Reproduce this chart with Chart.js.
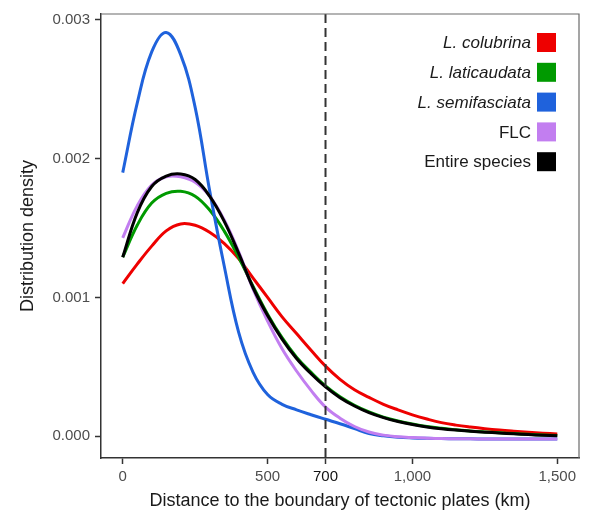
<!DOCTYPE html>
<html>
<head>
<meta charset="utf-8">
<script src="https://cdn.jsdelivr.net/npm/chart.js@4"></script>
<style>
  html, body { margin: 0; padding: 0; background: #fff; }
  #wrap { width: 589px; height: 512px; }
</style>
</head>
<body>
<div id="wrap"><canvas id="chart" width="589" height="512"></canvas></div>
<script>
// distancia (km) em que as curvas foram lidas
const distance = [0, 50, 100, 150, 200, 250, 300, 350, 400, 450, 500, 550, 600, 650, 700, 750,
                  800, 850, 900, 950, 1000, 1050, 1100, 1150, 1200, 1250, 1300, 1350, 1400, 1450, 1500];

const colubrina = [0.00110, 0.00124, 0.00137, 0.00148, 0.00153, 0.00152, 0.00147, 0.00139, 0.00128, 0.00114,
                   0.00100, 0.00086, 0.00074, 0.00062, 0.000505, 0.00041, 0.000335, 0.00028, 0.00023, 0.00019,
                   0.000154, 0.000124, 0.000098, 0.00008, 0.000066, 0.000054, 0.000044, 0.000036, 0.000029, 0.000022, 0.000016];
const laticaudata = [0.00129, 0.00152, 0.00168, 0.00175, 0.001765, 0.00173, 0.00163, 0.00148, 0.00129, 0.00108,
                     0.00088, 0.00071, 0.00057, 0.00046, 0.000362, 0.000284, 0.000223, 0.000175, 0.000138, 0.00011,
                     0.000088, 0.00007, 0.000057, 0.000047, 0.000038, 0.000031, 0.000025, 0.000019, 0.000014, 0.000009, 0.000005];
const semifasciata = [0.00190, 0.00240, 0.00277, 0.00291, 0.00275, 0.00237, 0.00177, 0.00123, 0.00075, 0.00046,
                      0.00030, 0.00023, 0.00019, 0.000155, 0.000122, 0.00009, 0.000055, 0.00002, 0.000003, -0.000007,
                      -0.000012, -0.000015, -0.000017, -0.000018, -0.000019, -0.00002, -0.00002, -0.00002, -0.00002, -0.00002, -0.00002];
const flc = [0.00143, 0.00166, 0.00181, 0.00187, 0.00187, 0.00183, 0.00173, 0.00156, 0.00133, 0.00106,
             0.00083, 0.00063, 0.00047, 0.00033, 0.00021, 0.00013, 0.00007, 0.00003, 0.000008, -0.000004,
             -0.00001, -0.000014, -0.000017, -0.000018, -0.000019, -0.00002, -0.00002, -0.00002, -0.00002, -0.00002, -0.00002];
const entire = [0.00129, 0.00161, 0.00180, 0.001875, 0.00189, 0.00185, 0.00173, 0.00155, 0.00132, 0.00107,
                0.00087, 0.00070, 0.00056, 0.00045, 0.000355, 0.000278, 0.000218, 0.00017, 0.000134, 0.000106,
                0.000084, 0.000067, 0.000054, 0.000044, 0.000036, 0.000029, 0.000023, 0.000017, 0.000012, 0.000007, 0.000003];

const seriesNames = ['L. colubrina', 'L. laticaudata', 'L. semifasciata', 'FLC', 'Entire species'];
const seriesItalic = [true, true, true, false, false];
const seriesColors = ['#ee0000', '#009a00', '#1f62dc', '#c27ef0', '#000000'];
const seriesValues = [colubrina, laticaudata, semifasciata, flc, entire];
// ordem de desenho: preto por cima
const seriesOrder = [5, 4, 3, 2, 1];

const xTicks = [0, 500, 700, 1000, 1500];
const yTicks = [0, 0.001, 0.002, 0.003];
const cutoff = 700;

const FONT = '"Liberation Sans", Arial, sans-serif';

// linha tracejada em 700 km
const cutoffLine = {
    id: 'cutoffLine',
    afterDatasetsDraw(chart) {
        const ctx = chart.ctx;
        const x = chart.scales.x.getPixelForValue(cutoff);
        const area = chart.chartArea;
        ctx.save();
        ctx.strokeStyle = '#333333';
        ctx.lineWidth = 2;
        ctx.setLineDash([9, 5]);
        ctx.beginPath();
        ctx.moveTo(x, area.top);
        ctx.lineTo(x, area.bottom);
        ctx.stroke();
        ctx.restore();
    }
};

// borda de cima e da direita do painel
const panelBorder = {
    id: 'panelBorder',
    afterDraw(chart) {
        const ctx = chart.ctx;
        const a = chart.chartArea;
        ctx.save();
        ctx.strokeStyle = '#6a6a6a';
        ctx.lineWidth = 1.2;
        ctx.beginPath();
        ctx.moveTo(a.left, a.top);
        ctx.lineTo(a.right, a.top);
        ctx.lineTo(a.right, a.bottom);
        ctx.stroke();
        ctx.restore();
    }
};

// legenda dentro do painel, texto alinhado a direita
const insideLegend = {
    id: 'insideLegend',
    afterDraw(chart) {
        const ctx = chart.ctx;
        const a = chart.chartArea;
        const boxSize = 19;
        const boxRight = a.right - 23;
        ctx.save();
        ctx.textAlign = 'right';
        ctx.textBaseline = 'middle';
        seriesNames.forEach((name, i) => {
            const y = a.top + 28.5 + i * 29.8;
            ctx.font = (seriesItalic[i] ? 'italic ' : '') + '17px ' + FONT;
            ctx.fillStyle = '#1a1a1a';
            ctx.fillText(name, boxRight - boxSize - 6, y + 1);
            ctx.fillStyle = seriesColors[i];
            ctx.fillRect(boxRight - boxSize, y - boxSize / 2, boxSize, boxSize);
        });
        ctx.restore();
    }
};

document.addEventListener('DOMContentLoaded', function() {
    const ctx = document.getElementById('chart').getContext('2d');

    const datasets = seriesNames.map((name, i) => ({
        label: name,
        data: seriesValues[i].map((v, j) => ({ x: distance[j], y: v })),
        borderColor: seriesColors[i],
        backgroundColor: seriesColors[i],
        borderWidth: 3,
        pointRadius: 0,
        tension: 0.4,
        fill: false,
        order: seriesOrder[i]
    }));

    new Chart(ctx, {
        type: 'line',
        data: { datasets: datasets },
        plugins: [cutoffLine, panelBorder, insideLegend],
        options: {
            responsive: false,
            animation: false,
            layout: { padding: { top: 13, right: 10, left: 0, bottom: 0 } },
            plugins: {
                legend: { display: false },
                tooltip: { enabled: false }
            },
            scales: {
                x: {
                    type: 'linear',
                    min: -75,
                    max: 1575,
                    afterBuildTicks: scale => { scale.ticks = xTicks.map(v => ({ value: v })); },
                    afterFit: scale => { scale.height = 54; },
                    border: { color: '#333333', width: 1.5 },
                    grid: { drawOnChartArea: false, drawTicks: true, tickLength: 6, tickColor: '#333333', tickWidth: 1.5 },
                    ticks: {
                        padding: 4,
                        maxRotation: 0,
                        autoSkip: false,
                        font: { family: FONT, size: 15 },
                        color: c => (c.tick && c.tick.value === cutoff ? '#111111' : '#4d4d4d'),
                        callback: v => v.toLocaleString('en-US')
                    },
                    title: {
                        display: true,
                        text: 'Distance to the boundary of tectonic plates (km)',
                        font: { family: FONT, size: 18 },
                        color: '#1a1a1a',
                        padding: { top: 0, bottom: 0 }
                    }
                },
                y: {
                    type: 'linear',
                    min: -0.000157,
                    max: 0.003043,
                    afterBuildTicks: scale => { scale.ticks = yTicks.map(v => ({ value: v })); },
                    afterFit: scale => { scale.width = 101; },
                    border: { color: '#333333', width: 1.5 },
                    grid: { drawOnChartArea: false, drawTicks: true, tickLength: 6, tickColor: '#333333', tickWidth: 1.5 },
                    ticks: {
                        padding: 5,
                        font: { family: FONT, size: 15 },
                        color: '#4d4d4d',
                        callback: v => v.toFixed(3)
                    },
                    title: {
                        display: true,
                        text: 'Distribution density',
                        font: { family: FONT, size: 18 },
                        color: '#1a1a1a',
                        padding: { top: 17, bottom: 0 }
                    }
                }
            }
        }
    });
});
</script>
</body>
</html>
